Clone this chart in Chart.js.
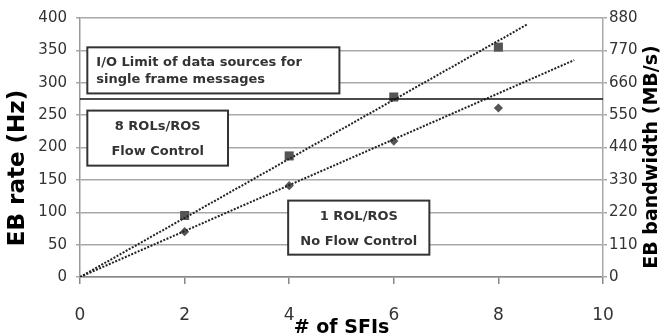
<!DOCTYPE html>
<html>
<head>
<meta charset="utf-8">
<script src="https://cdn.jsdelivr.net/npm/chart.js@4/dist/chart.umd.min.js"></script>
<style>
html,body{margin:0;padding:0;background:#fff;}
#wrap{width:664px;height:336px;position:relative;}
</style>
</head>
<body>
<div id="wrap"><canvas id="c" width="664" height="336"></canvas></div>
<script>
// ---- data ----
const sfis = [2, 4, 6, 8];
const rate8RolsFlowCtrl = [95, 187, 278, 355];
const rate1RolNoFlowCtrl = [70, 141, 210, 261];
const trend8X = [0, 8.55];
const trend8Y = [0, 390];
const trend1X = [0, 9.45];
const trend1Y = [0, 335];
const ioLimitX = [0, 10];
const ioLimitY = [275, 275];
const xTitle = '# of SFIs';
const yTitle = 'EB rate (Hz)';
const y2Title = 'EB bandwidth (MB/s)';
const noteIO = ['I/O Limit of data sources for', 'single frame messages'];
const note8 = ['8 ROLs/ROS', 'Flow Control'];
const note1 = ['1 ROL/ROS', 'No Flow Control'];

const pts = (xs, ys) => xs.map((x, i) => ({x: x, y: ys[i]}));

// annotation boxes in data coordinates (x: SFIs, y: Hz)
const boxes = [
  {x0: 0.14, x1: 4.96, y0: 354.7, y1: 283.5, lines: noteIO, align: 'left', gap: 17},
  {x0: 0.14, x1: 2.83, y0: 257, y1: 172, lines: note8, align: 'center', gap: 25},
  {x0: 3.98, x1: 6.68, y0: 118, y1: 34.5, lines: note1, align: 'center', gap: 25}
];

const notesPlugin = {
  id: 'notes',
  afterDatasetsDraw(chart) {
    const ctx = chart.ctx, xs = chart.scales.x, ys = chart.scales.y;
    ctx.save();
    boxes.forEach(b => {
      const l = xs.getPixelForValue(b.x0), r = xs.getPixelForValue(b.x1);
      const t = ys.getPixelForValue(b.y0), bt = ys.getPixelForValue(b.y1);
      ctx.fillStyle = '#fff';
      ctx.fillRect(l, t, r - l, bt - t);
      ctx.strokeStyle = '#333';
      ctx.lineWidth = 2;
      ctx.strokeRect(l, t, r - l, bt - t);
      ctx.fillStyle = '#333';
      ctx.font = 'bold 13px "DejaVu Sans"';
      ctx.textBaseline = 'middle';
      const cy = (t + bt) / 2 + 1;
      b.lines.forEach((s, i) => {
        const y = cy + (i - (b.lines.length - 1) / 2) * b.gap;
        if (b.align === 'left') { ctx.textAlign = 'left'; ctx.fillText(s, l + 9, y); }
        else { ctx.textAlign = 'center'; ctx.fillText(s, (l + r) / 2, y); }
      });
    });
    ctx.restore();
  },
  afterDraw(chart) {
    const ctx = chart.ctx;
    ctx.save();
    ctx.fillStyle = '#000';
    ctx.textAlign = 'center';
    ctx.textBaseline = 'middle';
    ctx.font = 'bold 23px "DejaVu Sans"';
    ctx.translate(18, 168);
    ctx.rotate(-Math.PI / 2);
    ctx.fillText(yTitle, 0, 0);
    ctx.restore();
    ctx.save();
    ctx.fillStyle = '#000';
    ctx.textAlign = 'center';
    ctx.textBaseline = 'middle';
    ctx.font = 'bold 19px "DejaVu Sans"';
    ctx.translate(652, 157);
    ctx.rotate(-Math.PI / 2);
    ctx.fillText(y2Title, 0, 0);
    ctx.restore();
  }
};

new Chart(document.getElementById('c'), {
  type: 'scatter',
  data: {
    datasets: [
      {label: 'I/O limit', data: pts(ioLimitX, ioLimitY), showLine: true, borderColor: '#111', borderWidth: 1.5, pointRadius: 0, yAxisID: 'y'},
      {label: 'Trend 8 ROLs/ROS', data: pts(trend8X, trend8Y), showLine: true, borderColor: '#222', borderWidth: 2, borderDash: [2, 1.5], pointRadius: 0, yAxisID: 'y'},
      {label: 'Trend 1 ROL/ROS', data: pts(trend1X, trend1Y), showLine: true, borderColor: '#222', borderWidth: 2, borderDash: [2, 1.5], pointRadius: 0, yAxisID: 'y'},
      {label: '8 ROLs/ROS Flow Control', data: pts(sfis, rate8RolsFlowCtrl), pointStyle: 'rect', pointRadius: 6.4, backgroundColor: '#555', borderColor: '#555', borderWidth: 0, yAxisID: 'y'},
      {label: '1 ROL/ROS No Flow Control', data: pts(sfis, rate1RolNoFlowCtrl), pointStyle: 'rectRot', pointRadius: 4.6, backgroundColor: '#555', borderColor: '#555', borderWidth: 0, yAxisID: 'y'}
    ]
  },
  options: {
    responsive: false,
    animation: false,
    layout: {padding: {top: 18, left: 0, right: 0, bottom: 0}},
    plugins: {legend: {display: false}, tooltip: {enabled: false}},
    scales: {
      x: {
        type: 'linear', position: 'bottom', min: 0, max: 10,
        ticks: {stepSize: 2, color: '#333', font: {family: 'DejaVu Sans', size: 17}, padding: 21},
        grid: {display: true, drawOnChartArea: false, tickLength: 7, color: '#888', lineWidth: 1.5},
        border: {color: '#888', width: 1.5},
        title: {display: true, text: xTitle, color: '#000', font: {family: 'DejaVu Sans', weight: 'bold', size: 19, lineHeight: 1}, padding: {top: 0, bottom: -2}},
        afterFit(s) { s.height = 59; }
      },
      y: {
        type: 'linear', position: 'left', min: 0, max: 400,
        ticks: {stepSize: 50, color: '#333', font: {family: 'DejaVu Sans', size: 15}, padding: 9},
        grid: {color: '#a8a8a8', lineWidth: 1.5, tickLength: 4},
        border: {color: '#999', width: 1.5},
        afterFit(s) { s.width = 80; }
      },
      y2: {
        type: 'linear', position: 'right', min: 0, max: 880,
        ticks: {stepSize: 110, color: '#333', font: {family: 'DejaVu Sans', size: 15}, padding: 2},
        grid: {drawOnChartArea: false, color: '#a8a8a8', lineWidth: 1.5, tickLength: 4},
        border: {color: '#aaa', width: 1.5},
        afterFit(s) { s.width = 61; }
      }
    }
  },
  plugins: [notesPlugin]
});
</script>
</body>
</html>
